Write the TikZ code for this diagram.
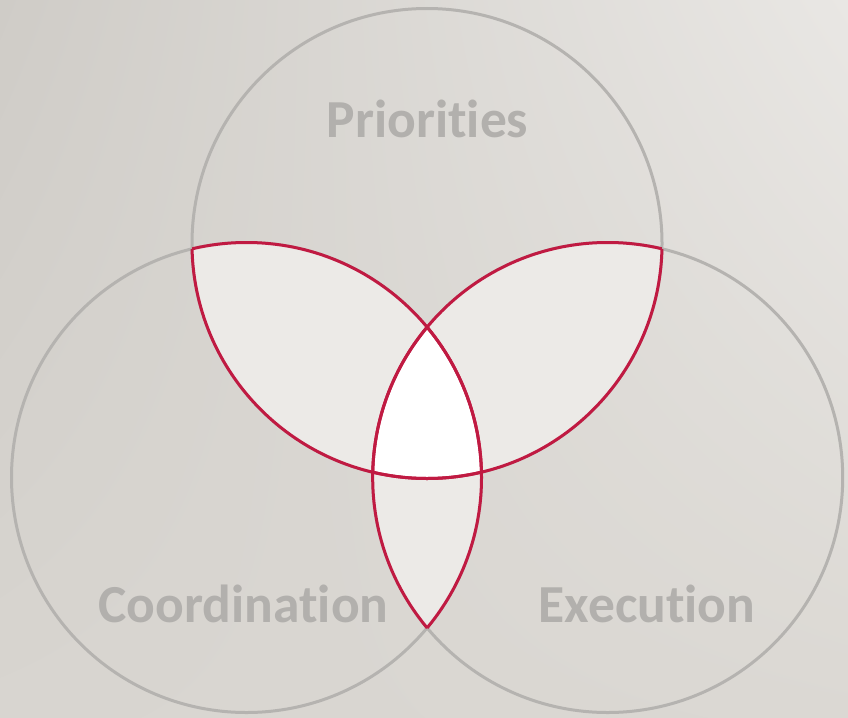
\documentclass[tikz,border=0pt]{standalone}
\usepackage{fontspec}
\setmainfont[Ligatures={NoCommon}]{Carlito}
\usetikzlibrary{shadings}
\definecolor{bgUL}{HTML}{CFCCC7}
\definecolor{bgUR}{HTML}{E9E7E4}
\definecolor{bgLL}{HTML}{D8D5D0}
\definecolor{bgLR}{HTML}{DBD8D3}
\definecolor{ringgray}{HTML}{B5B3B0}
\definecolor{lensred}{HTML}{C01A42}
\definecolor{lensfill}{HTML}{ECEAE7}
\definecolor{labelgray}{HTML}{B2B0AD}
\begin{document}
\begin{tikzpicture}[x=1pt,y=-1pt,
  ring/.style={draw=ringgray,line width=3pt},
  redarc/.style={draw=lensred,line width=3pt},
  lbl/.style={font=\fontsize{53.5}{60}\selectfont\bfseries,text=labelgray,anchor=base,inner sep=0pt}]
\useasboundingbox (0,0) rectangle (848,717);
\shade[upper left=bgUL,upper right=bgUR,lower left=bgLL,lower right=bgLR] (0,0) rectangle (848,717);
\coordinate (T) at (427,243.5);
\coordinate (L) at (246.5,477.5);
\coordinate (R) at (607.7,477.5);
\def\rr{235pt}
% gray circles
\path[ring] (T) circle[radius=\rr];
\path[ring] (L) circle[radius=\rr];
\path[ring] (R) circle[radius=\rr];
% pairwise lens fills
\begin{scope}\clip (T) circle[radius=\rr]; \fill[lensfill] (L) circle[radius=\rr];\end{scope}
\begin{scope}\clip (T) circle[radius=\rr]; \fill[lensfill] (R) circle[radius=\rr];\end{scope}
\begin{scope}\clip (L) circle[radius=\rr]; \fill[lensfill] (R) circle[radius=\rr];\end{scope}
% triple intersection
\begin{scope}\clip (T) circle[radius=\rr]; \clip (L) circle[radius=\rr]; \fill[white] (R) circle[radius=\rr];\end{scope}
% red arcs: each circle inside each other circle
\begin{scope}\clip (L) circle[radius=\rr]; \path[redarc] (T) circle[radius=\rr];\end{scope}
\begin{scope}\clip (R) circle[radius=\rr]; \path[redarc] (T) circle[radius=\rr];\end{scope}
\begin{scope}\clip (T) circle[radius=\rr]; \path[redarc] (L) circle[radius=\rr];\end{scope}
\begin{scope}\clip (R) circle[radius=\rr]; \path[redarc] (L) circle[radius=\rr];\end{scope}
\begin{scope}\clip (T) circle[radius=\rr]; \path[redarc] (R) circle[radius=\rr];\end{scope}
\begin{scope}\clip (L) circle[radius=\rr]; \path[redarc] (R) circle[radius=\rr];\end{scope}
% labels
\node[lbl] (pri) at (427.5,137) {Priorities};
\node[lbl] (coo) at (243.5,622) {Coordination};
\node[lbl] (exe) at (647,622) {Execution};
\end{tikzpicture}
\end{document}
